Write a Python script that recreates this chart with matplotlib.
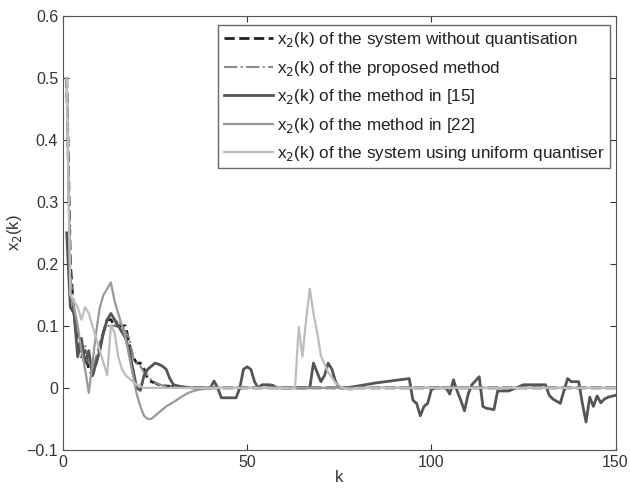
import numpy as np
import matplotlib
matplotlib.use('Agg')
import matplotlib.pyplot as plt

plt.rcParams['font.family'] = ['Liberation Sans', 'DejaVu Sans']

# x2(k) of the system without quantisation
k_nq = [1, 2, 3, 4, 5, 6, 7, 8, 9, 10, 11, 12, 13, 14, 15, 16, 17, 18, 19, 20,
        21, 22, 23, 24, 25, 26, 27, 28, 30, 33, 36, 150]
y_nq = [0.5, 0.2, 0.12, 0.07, 0.05, 0.06, 0.03, 0.02, 0.04, 0.07, 0.09, 0.11, 0.11, 0.1, 0.1, 0.1, 0.1, 0.07, 0.05, 0.04,
        0.04, 0.03, 0.015, 0.01, 0.008, 0.005, 0.004, 0.003, 0.002, 0.001, 0.0, 0.0]

# x2(k) of the proposed method
k_prop = [1, 2, 3, 4, 5, 6, 7, 8, 9, 10, 11, 12, 13, 14, 15, 16, 17, 18, 19, 20,
          21, 22, 23, 24, 25, 26, 27, 28, 30, 33, 36, 150]
y_prop = [0.5, 0.18, 0.13, 0.08, 0.06, 0.07, 0.04, 0.03, 0.05, 0.07, 0.09, 0.1, 0.1, 0.1, 0.11, 0.1, 0.09, 0.08, 0.05, 0.04,
          0.035, 0.025, 0.02, 0.012, 0.008, 0.006, 0.004, 0.003, 0.002, 0.001, 0.0, 0.0]

# x2(k) of the method in [15]
k_15 = [1, 2, 3, 4, 5, 6, 7, 8, 9, 10, 11, 12, 13, 14, 15, 16, 17, 18, 19, 20,
        21, 22, 23, 25, 26, 27, 28, 29, 30, 32, 35, 38, 40, 41, 42, 43, 47, 48,
        49, 50, 51, 52, 53, 54, 56, 57, 58, 66, 67, 68, 69, 70, 71, 72, 73, 74,
        75, 77, 85, 94, 95, 96, 97, 98, 99, 100, 101, 104, 105, 106, 107, 108, 109, 110,
        111, 113, 114, 115, 117, 118, 121, 125, 131, 132, 133, 135, 137, 138, 139, 140,
        141, 142, 143, 144, 145, 146, 147, 148, 150]
y_15 = [0.25, 0.13, 0.12, 0.05, 0.08, 0.04, 0.06, 0.02, 0.04, 0.06, 0.09, 0.11, 0.12, 0.11, 0.1, 0.09, 0.08, 0.06, 0.03, 0.0,
        -0.004, 0.02, 0.03, 0.04, 0.038, 0.035, 0.03, 0.015, 0.005, 0.002, 0.0, 0.0, 0.0, 0.011, 0.0, -0.016, -0.016, 0.0,
        0.03, 0.034, 0.03, 0.01, 0.0, 0.005, 0.005, 0.004, 0.0, 0.0, 0.0, 0.04, 0.025, 0.01, 0.02, 0.04, 0.03, 0.01,
        0.0, 0.0, 0.008, 0.015, -0.02, -0.025, -0.045, -0.03, -0.025, -0.003, 0.0, 0.0, -0.01, 0.013, -0.005, -0.02, -0.037, -0.01,
        0.005, 0.018, -0.03, -0.033, -0.035, -0.005, -0.005, 0.005, 0.005, -0.012, -0.018, -0.025, 0.015, 0.01, 0.01, 0.01,
        -0.025, -0.055, -0.015, -0.03, -0.013, -0.024, -0.018, -0.015, -0.012]

# x2(k) of the method in [22]
k_22 = [1, 2, 3, 4, 5, 6, 7, 8, 9, 10, 11, 12, 13, 14, 15, 16, 17, 18, 19, 20,
        21, 22, 23, 24, 25, 26, 28, 30, 32, 34, 36, 38, 40, 150]
y_22 = [0.5, 0.15, 0.13, 0.1, 0.06, 0.03, -0.008, 0.04, 0.09, 0.13, 0.15, 0.16, 0.17, 0.14, 0.12, 0.1, 0.08, 0.05, 0.02, -0.01,
        -0.03, -0.045, -0.05, -0.05, -0.045, -0.04, -0.03, -0.023, -0.015, -0.008, -0.004, -0.002, 0.0, 0.0]

# x2(k) of the system using uniform quantiser
k_uni = [1, 2, 3, 4, 5, 6, 7, 8, 9, 10, 11, 12, 13, 14, 15, 16, 17, 18, 19, 20,
         22, 62, 63, 64, 65, 66, 67, 68, 69, 70, 72, 74, 76, 78, 80, 150]
y_uni = [0.5, 0.15, 0.14, 0.13, 0.11, 0.13, 0.12, 0.1, 0.08, 0.06, 0.04, 0.02, 0.1, 0.09, 0.05, 0.03, 0.02, 0.015, 0.01, 0.005,
         0.0, 0.0, 0.0, 0.098, 0.05, 0.11, 0.16, 0.12, 0.09, 0.052, 0.025, 0.008, 0.0, -0.003, 0.0, 0.0]

labels = ['x$_2$(k) of the system without quantisation',
          'x$_2$(k) of the proposed method',
          'x$_2$(k) of the method in [15]',
          'x$_2$(k) of the method in [22]',
          'x$_2$(k) of the system using uniform quantiser']

fig = plt.figure(figsize=(6.3, 4.96), dpi=100)
ax = fig.add_axes([0.1, 0.093, 0.877, 0.875])

ax.plot(k_nq, y_nq, color='#222222', lw=2.0, ls='--', label=labels[0])
ax.plot(k_prop, y_prop, color='#8a8a8a', lw=1.5, ls='-.', label=labels[1])
ax.plot(k_15, y_15, color='#555555', lw=2.0, label=labels[2])
ax.plot(k_22, y_22, color='#999999', lw=1.6, label=labels[3])
ax.plot(k_uni, y_uni, color='#bdbdbd', lw=1.6, label=labels[4])

ax.set_xlim(0, 150)
ax.set_ylim(-0.1, 0.6)
ax.set_xticks([0, 50, 100, 150])
ax.set_yticks(np.arange(-0.1, 0.61, 0.1))
ax.set_yticklabels(['\u22120.1', '0', '0.1', '0.2', '0.3', '0.4', '0.5', '0.6'])
ax.tick_params(direction='in', top=True, right=True, labelsize=11.5, colors='#333333', length=4)
for s in ax.spines.values():
    s.set_color('#555555')
ax.set_xlabel('k', fontsize=12, color='#333333', labelpad=0)
ax.set_ylabel('x$_2$(k)', fontsize=12, color='#333333', labelpad=2)

leg = ax.legend(loc='upper right', fontsize=12.3, frameon=True, fancybox=False,
                edgecolor='#444444', handlelength=2.9, handletextpad=0.25, labelspacing=0.55,
                borderpad=0.3, borderaxespad=0.3, bbox_to_anchor=(1.0, 0.99))
leg.get_frame().set_linewidth(1.0)
for t in leg.get_texts():
    t.set_color('#222222')

fig.savefig('out.png', dpi=100)
